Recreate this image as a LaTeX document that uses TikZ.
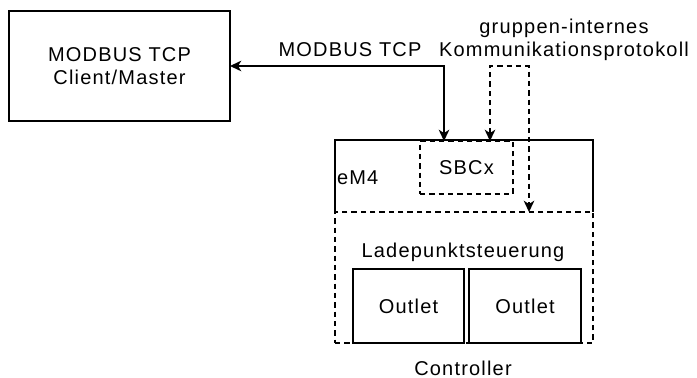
\documentclass[tikz,border=0pt]{standalone}
\usepackage{fontspec}
\setmainfont[LetterSpace=6]{Liberation Sans}
\usetikzlibrary{arrows.meta,calc}
\begin{document}
\begin{tikzpicture}[x=0.75pt,y=-0.75pt,
  every node/.style={inner sep=0pt,outer sep=0pt,font=\fontsize{15}{17.5}\selectfont},
  box/.style={draw,line width=1pt},
  dbox/.style={draw,line width=1pt,dash pattern=on 4pt off 3pt},
  conn/.style={line width=1pt,{Stealth[length=8.5pt,width=8pt,inset=2.5pt]}-{Stealth[length=8.5pt,width=8pt,inset=2.5pt]}},
  dconn/.style={conn,dash pattern=on 4pt off 3pt}]
\useasboundingbox (0,0) rectangle (697,378);
% client
\node[box,minimum width=165.75pt,minimum height=82.5pt,align=center] (client) at (119.5,66) {MODBUS TCP\\Client/Master};
% eM4 area
\node[minimum width=193.5pt,minimum height=54pt] (em4) at (464,176) {};
\draw[line width=1pt] (em4.south west) -- (em4.north west) -- (em4.north east) -- (em4.south east);
\node[anchor=west] (em4lbl) at (337,178) {eM4};
% Ladepunktsteuerung
\node[dbox,minimum width=193.5pt,minimum height=98.25pt] (lade) at (464,277.5) {};
\node (ladelbl) at (463,252) {Ladepunktsteuerung};
% SBCx
\node[dbox,minimum width=69.75pt,minimum height=39.75pt] (sbcx) at (466.5,167.5) {SBCx};
% outlets
\node[box,minimum width=83.25pt,minimum height=55.5pt] (out1) at (408.5,306) {Outlet};
\node[box,minimum width=84pt,minimum height=55.5pt] (out2) at (525,306) {Outlet};
% labels
\node (ctrl) at (463,368) {Controller};
\node (modlbl) at (350,50) {MODBUS TCP};
\node[align=center] (gruppe) at (564,40) {gruppen-internes\\Kommunikationsprotokoll};
% connectors
\coordinate (m1) at (444,66);
\draw[conn] (client.east |- m1) -- (m1) -- (m1 |- sbcx.north);
\coordinate (t1) at (490,66);
\coordinate (t2) at (529,66);
\draw[dconn] (t1 |- sbcx.north) -- (t1) -- (t2) -- (t2 |- lade.north);
\end{tikzpicture}
\end{document}
